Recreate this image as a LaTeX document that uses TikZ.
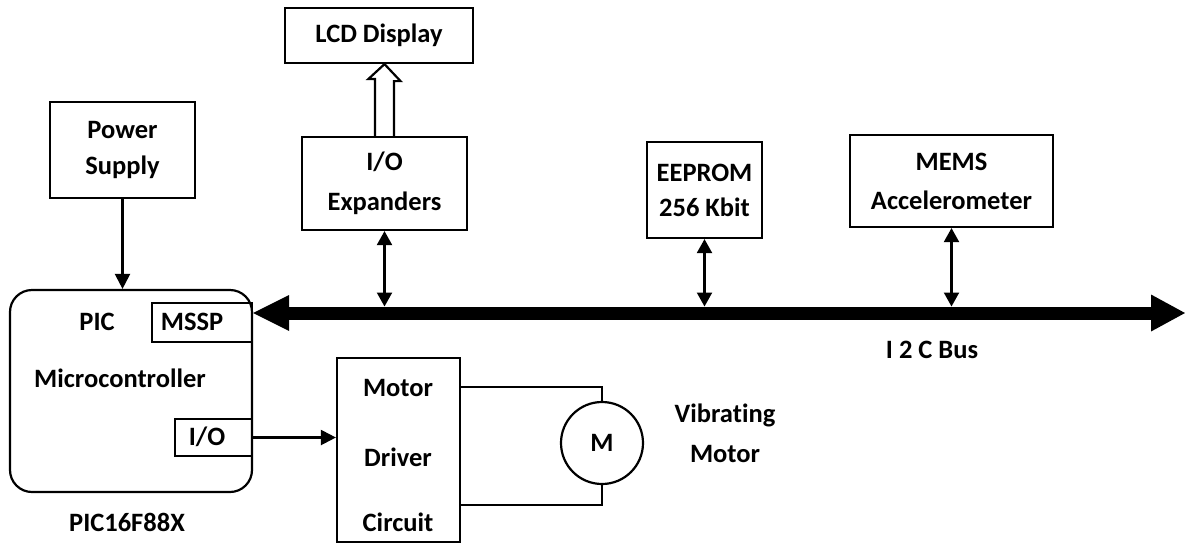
\documentclass[tikz,border=0pt]{standalone}
\usepackage{fontspec}
\setmainfont{Carlito}[Ligatures=NoCommon]
\usetikzlibrary{arrows.meta,calc}
\begin{document}
\begin{tikzpicture}[x=1pt,y=-1pt,
  every node/.style={font=\fontsize{26.5}{36}\selectfont\bfseries},
  blk/.style={draw, line width=2.2pt, inner sep=0pt, align=center},
  lbl/.style={inner sep=0pt, align=center},
  conn/.style={line width=2.2pt, -{Triangle[length=15pt,width=15pt]}},
  biconn/.style={line width=2.2pt, {Triangle[length=14pt,width=15pt]}-{Triangle[length=14pt,width=15pt]}},
  wire/.style={line width=2.2pt},
  bus/.style={line width=13pt, {Triangle[length=36pt,width=36pt,line width=0pt]}-{Triangle[length=34pt,width=37pt,line width=0pt]}},
]
\useasboundingbox (0,0) rectangle (1185,544);

% blocks
\node[blk, minimum width=145, minimum height=96] (ps) at (122.5,150) {Power\\Supply};
\node[blk, minimum width=188, minimum height=55] (lcd) at (379,35.5) {LCD Display};
\node[blk, minimum width=165, minimum height=93, font=\fontsize{26.5}{40}\selectfont\bfseries] (ioe) at (384.5,183.5) {I/O\\Expanders};
\node[blk, minimum width=115, minimum height=96, font=\fontsize{26.5}{35}\selectfont\bfseries] (eep) at (704.5,190) {EEPROM\\256 Kbit};
\node[blk, minimum width=203, minimum height=92, font=\fontsize{26.5}{39}\selectfont\bfseries] (mems) at (951.5,181) {MEMS\\Accelerometer};

% microcontroller
\node[draw, line width=2.2pt, rounded corners=22pt, minimum width=242, minimum height=202, inner sep=0pt] (pic) at (131,391) {};
\node[blk, minimum width=100, minimum height=39] (mssp) at (202,322.5) {};
\node[lbl] (mssptxt) at (192,322) {MSSP};
\node[lbl] (pictxt) at (97,322) {PIC};
\node[lbl] (mctxt) at (120,378) {Microcontroller};
\node[blk, minimum width=77, minimum height=37] (io) at (213.5,437.5) {};
\node[lbl] (iotxt) at (207,437) {I/O};
\node[lbl] (pname) at (127,522) {PIC16F88X};

% motor driver
\node[blk, minimum width=123, minimum height=184] (drv) at (398.5,450) {};
\node[lbl] (d1) at (398,388) {Motor};
\node[lbl] (d2) at (398,457) {Driver};
\node[lbl] (d3) at (398,522) {Circuit};
\node[draw, circle, line width=2.2pt, minimum size=82, inner sep=0pt] (mot) at (602,443) {M};
\node[lbl, font=\fontsize{26.5}{40}\selectfont\bfseries] (vm) at (725,433) {Vibrating\\Motor};

% bus
\coordinate (busend) at (1185,313);
\coordinate (bustop) at (0,306.5);
\draw[bus] (mssp.east |- busend) -- (busend);
\node[lbl] (buslbl) at (932,350) {I 2 C Bus};

% connectors
\draw[conn] (ps.south) -- (ps.south |- pic.north);
\draw[biconn] (ioe.south) -- (ioe.south |- bustop);
\draw[biconn] (eep.south) -- (eep.south |- bustop);
\draw[biconn] (mems.south) -- (mems.south |- bustop);
\draw[conn] (io.east) -- (io.east -| drv.west);
\draw[wire] ($(drv.north east)+(0,30)$) -| (mot.north);
\draw[wire] ($(drv.south east)+(0,-38)$) -| (mot.south);

% hollow arrow I/O expanders -> LCD
\draw[line width=2.2pt, fill=white, line join=miter]
  ($(ioe.north)+(-9.5,0)$) -- ++(0,-57) -- ++(-6.5,0) -- (ioe.north |- lcd.south)
  -- ($(ioe.north |- lcd.south)+(16,17)$) -- ++(-6.5,0) -- ($(ioe.north)+(9.5,0)$);
\end{tikzpicture}
\end{document}
